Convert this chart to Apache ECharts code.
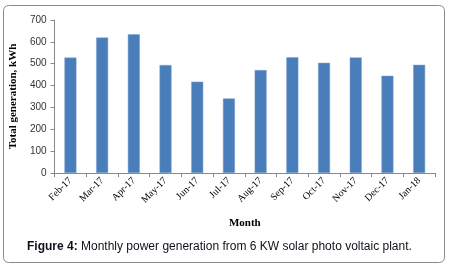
<!DOCTYPE html>
<html>
<head>
<meta charset="utf-8">
<script src="https://cdn.jsdelivr.net/npm/echarts@6/dist/echarts.min.js"></script>
<style>
  html, body { margin: 0; padding: 0; background: #fff; }
  #chart { width: 451px; height: 273px; }
</style>
</head>
<body>
<div id="chart"></div>
<script>
// month labels and kWh per month
var months = ['Feb-17', 'Mar-17', 'Apr-17', 'May-17', 'Jun-17', 'Jul-17',
  'Aug-17', 'Sep-17', 'Oct-17', 'Nov-17', 'Dec-17', 'Jan-18'];
var generation = [528, 620, 635, 494, 418, 341, 471, 530, 504, 529, 445, 495];
var yTicks = [0, 100, 200, 300, 400, 500, 600, 700];

var chart = echarts.init(document.getElementById('chart'), null, {
  width: 451,
  height: 273
});

var option = {
  animation: false,
  title: {
    text: '{b|Figure 4:} Monthly power generation from 6 KW solar photo voltaic plant.',
    left: 27,
    top: 241,
    padding: 0,
    textStyle: {
      fontFamily: 'Liberation Sans',
      fontSize: 12,
      fontWeight: 'normal',
      color: '#10101c',
      rich: {
        b: { fontFamily: 'Liberation Sans', fontSize: 12, fontWeight: 'bold', color: '#10101c' }
      }
    }
  },
  graphic: [{
    type: 'rect',
    shape: { x: 3.5, y: 5.5, width: 441, height: 257, r: 5 },
    style: { fill: 'none', stroke: '#8a8a8a', lineWidth: 1 },
    z: -1
  }],
  grid: {
    left: 48,
    right: 16,
    top: 20,
    bottom: 100
  },
  xAxis: {
    type: 'category',
    data: months,
    name: 'Month',
    nameLocation: 'middle',
    nameGap: 45,
    nameTextStyle: {
      fontFamily: 'Liberation Serif',
      fontWeight: 'bold',
      fontSize: 11,
      color: '#000'
    },
    axisLine: { lineStyle: { color: '#888' } },
    axisTick: { show: true, alignWithLabel: false, length: 4, lineStyle: { color: '#888' } },
    axisLabel: {
      rotate: 45,
      interval: 0,
      margin: 6,
      fontFamily: 'Liberation Serif',
      fontSize: 10,
      color: '#000'
    }
  },
  yAxis: {
    type: 'value',
    min: 0,
    max: yTicks[yTicks.length - 1],
    interval: 100,
    name: 'Total generation, kWh',
    nameLocation: 'middle',
    nameGap: 33,
    nameTextStyle: {
      fontFamily: 'Liberation Serif',
      fontWeight: 'bold',
      fontSize: 11,
      color: '#000'
    },
    axisLine: { show: true, lineStyle: { color: '#888' } },
    axisTick: { show: true, length: 4, lineStyle: { color: '#888' } },
    splitLine: { show: false },
    axisLabel: {
      margin: 8,
      fontFamily: 'Liberation Sans',
      fontSize: 10,
      color: '#333'
    }
  },
  series: [{
    type: 'bar',
    data: generation,
    barWidth: 12,
    itemStyle: {
      color: '#4a7ebb',
      borderColor: '#7fa3d3',
      borderWidth: 0.5
    }
  }]
};

chart.setOption(option);
</script>
</body>
</html>
